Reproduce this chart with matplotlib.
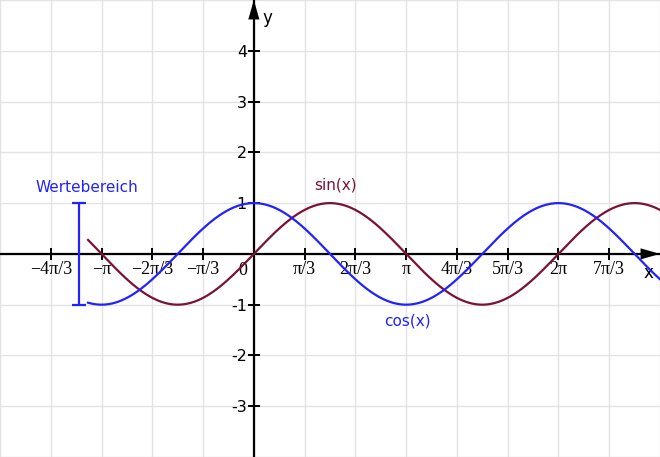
import matplotlib
matplotlib.use("Agg")
import matplotlib.pyplot as plt
import numpy as np

# axis window (x in multiples of pi/3)
x_min, x_max = -5 * np.pi / 3, 8 * np.pi / 3
y_min, y_max = -4, 5

# curve domain
curve_start = -3.42
curve_end = x_max

x_tick_steps = [-4, -3, -2, -1, 1, 2, 3, 4, 5, 6, 7]
x_tick_labels = ["\u22124\u03c0/3", "\u2212\u03c0", "\u22122\u03c0/3", "\u2212\u03c0/3",
                 "\u03c0/3", "2\u03c0/3", "\u03c0", "4\u03c0/3", "5\u03c0/3", "2\u03c0", "7\u03c0/3"]
y_ticks = [-3, -2, -1, 1, 2, 3, 4]
y_tick_labels = ["-3", "-2", "-1", "1", "2", "3", "4"]

# value range marker ("Wertebereich")
range_x = -3.6
range_low, range_high = -1, 1

sin_color = "#7a1238"
cos_color = "#2222ff"

fig = plt.figure(figsize=(6.6, 4.57), dpi=100)
ax = fig.add_axes([0, 0, 1, 1])
ax.set_xlim(x_min, x_max)
ax.set_ylim(y_min, y_max)

# grid
for k in range(-5, 9):
    ax.axvline(k * np.pi / 3, color="#e3e3e3", lw=1, zorder=0)
for k in range(y_min, y_max + 1):
    ax.axhline(k, color="#e3e3e3", lw=1, zorder=0)

# axes through origin
for s in ["top", "right"]:
    ax.spines[s].set_visible(False)
ax.spines["left"].set_position(("data", 0))
ax.spines["bottom"].set_position(("data", 0))
ax.spines["left"].set_linewidth(1.6)
ax.spines["bottom"].set_linewidth(1.6)
head = dict(facecolor="black", edgecolor="none", width=0.01, headwidth=8, headlength=14)
ax.annotate("", xy=(x_max, 0), xytext=(x_max - 0.5, 0), arrowprops=head,
            annotation_clip=False)
ax.annotate("", xy=(0, y_max), xytext=(0, y_max - 0.5), arrowprops=head,
            annotation_clip=False)

ax.set_xticks([k * np.pi / 3 for k in x_tick_steps])
ax.set_xticklabels(x_tick_labels, family="Liberation Serif", fontsize=13)
ax.set_yticks(y_ticks)
ax.set_yticklabels(y_tick_labels, family="DejaVu Sans", fontsize=11.5)
ax.tick_params(axis="x", direction="inout", length=8, width=1.4, pad=1)
ax.tick_params(axis="y", direction="inout", length=8, width=1.4, pad=1)

ax.text(-0.22, -0.33, "0", family="Liberation Serif", fontsize=13, ha="center", va="center")
ax.text(8.13, -0.37, "x", family="DejaVu Sans", fontsize=12, ha="center", va="center")
ax.text(0.28, 4.65, "y", family="DejaVu Sans", fontsize=12, ha="center", va="center")

# curves
xs = np.linspace(curve_start, curve_end, 600)
ax.plot(xs, np.sin(xs), color=sin_color, lw=1.6, zorder=3)
ax.plot(xs, np.cos(xs), color=cos_color, lw=1.6, zorder=4)

ax.text(1.68, 1.35, "sin(x)", color=sin_color, family="DejaVu Sans", fontsize=11,
        ha="center", va="center")
ax.text(3.16, -1.33, "cos(x)", color=cos_color, family="DejaVu Sans", fontsize=11,
        ha="center", va="center")

# Wertebereich bar
ax.errorbar([range_x], [(range_low + range_high) / 2], yerr=[(range_high - range_low) / 2],
            color=cos_color, capsize=5, capthick=1.6, elinewidth=1.6, fmt="none", zorder=4)
ax.text(-3.44, 1.31, "Wertebereich", color=cos_color, family="DejaVu Sans", fontsize=11,
        ha="center", va="center")

fig.savefig("out.png", dpi=100)
